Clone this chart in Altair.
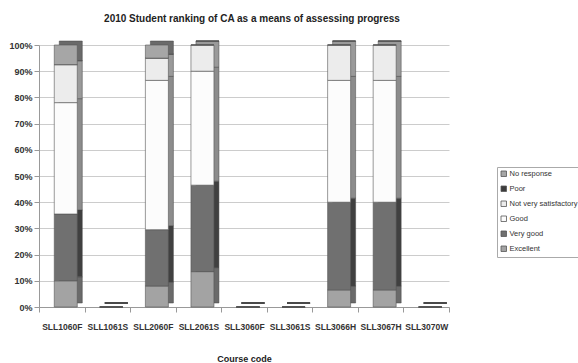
import altair as alt
import pandas as pd

courses = ["SLL1060F", "SLL1061S", "SLL2060F", "SLL2061S", "SLL3060F",
           "SLL3061S", "SLL3066H", "SLL3067H", "SLL3070W"]
categories = ["Excellent", "Very good", "Good", "Not very satisfactory", "Poor", "No response"]
excellent = [10, 0, 8, 13.5, 0, 0, 6.5, 6.5, 0]
very_good = [25.5, 0, 21.5, 33, 0, 0, 33.5, 33.5, 0]
good = [42.5, 0, 57, 43.5, 0, 0, 46.5, 46.5, 0]
not_very = [14.5, 0, 8.5, 10, 0, 0, 13.5, 13.5, 0]
poor = [0, 0, 0, 0, 0, 0, 0, 0, 0]
no_response = [7.5, 0, 5, 0, 0, 0, 0, 0, 0]

series = [excellent, very_good, good, not_very, poor, no_response]
rows = []
for k, (cat, vals) in enumerate(zip(categories, series)):
    for c, v in zip(courses, vals):
        rows.append({"course": c, "rating": cat, "share": v / 100.0, "rank": k})
df = pd.DataFrame(rows)

legend_order = ["No response", "Poor", "Not very satisfactory", "Good", "Very good", "Excellent"]
front_colors = ["#a6a6a6", "#3c3c3c", "#ececec", "#fcfcfc", "#707070", "#a3a3a3"]
side_colors = ["#6a6a6a", "#2a2a2a", "#9a9a9a", "#8c8c8c", "#404040", "#6a6a6a"]

font = "Liberation Sans"

x_enc = alt.X("course:N", sort=courses, title="Course code",
              scale=alt.Scale(paddingInner=0, paddingOuter=0),
              axis=alt.Axis(labelAngle=0, labelFont=font, labelFontSize=8.5, labelFontWeight="bold",
                            labelColor="#333333", labelPadding=10, tickBand="extent",
                            tickColor="#999999", domainColor="#999999", grid=False,
                            titleFont=font, titleFontSize=9, titleFontWeight="bold",
                            titlePadding=24, titleColor="#222222"))
y_enc = alt.Y("share:Q", stack="zero", title=None,
              scale=alt.Scale(domain=[0, 1]),
              axis=alt.Axis(format="%", values=[i / 10 for i in range(11)], labelFont=font,
                            labelFontSize=9, labelFontWeight="bold", labelColor="#333333",
                            gridColor="#cccccc", domainColor="#999999", tickColor="#999999"))

side = alt.Chart(df).mark_bar(size=23, xOffset=9, yOffset=-4, stroke="#444444",
                              strokeWidth=0.5).encode(
    x=x_enc, y=y_enc,
    color=alt.Color("rating:N", scale=alt.Scale(domain=legend_order, range=side_colors), legend=None),
    order=alt.Order("rank:Q"),
)

front = alt.Chart(df).mark_bar(size=23, xOffset=4, stroke="#555555", strokeWidth=0.6).encode(
    x=x_enc, y=y_enc,
    color=alt.Color("rating:N", scale=alt.Scale(domain=legend_order, range=front_colors),
                    title=None,
                    legend=alt.Legend(symbolType="square", symbolSize=30, symbolStrokeColor="#555555",
                                      symbolStrokeWidth=0.8, labelFont=font, labelFontSize=7.5,
                                      labelOffset=2, labelColor="#333333", rowPadding=5, padding=3,
                                      strokeColor="#aaaaaa", orient="none",
                                      legendX=458, legendY=122)),
    order=alt.Order("rank:Q"),
)

chart = alt.layer(side, front).resolve_scale(color="independent").properties(
    width=410, height=262,
    autosize=alt.AutoSizeParams(type="none"),
    title=alt.TitleParams("2010 Student ranking of CA as a means of assessing progress",
                          font=font, fontSize=10, fontWeight="bold", color="#222222",
                          anchor="middle", offset=17, dx=8),
    padding={"left": 39, "top": 45, "right": 129, "bottom": 56},
).configure_view(stroke=None)

chart.save("out.html", embed_options={"renderer": "svg", "actions": False})
